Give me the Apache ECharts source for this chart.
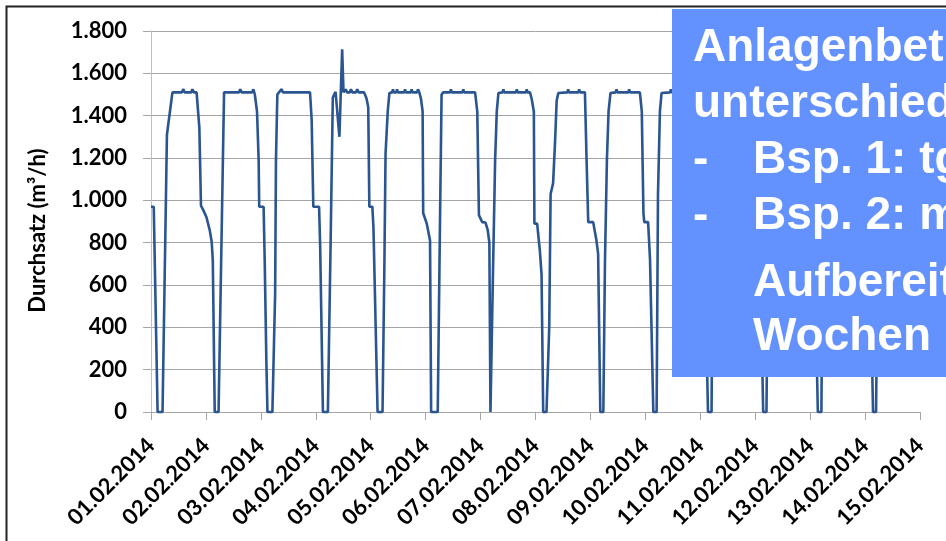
<!DOCTYPE html>
<html>
<head>
<meta charset="utf-8">
<script src="https://cdn.jsdelivr.net/npm/echarts@6/dist/echarts.min.js"></script>
<style>
html,body{margin:0;padding:0;background:#fff;}
#chart{width:946px;height:541px;}
</style>
</head>
<body>
<div id="chart"></div>
<script>
// Tick labels of the date axis (one per day, 01.02.2014 ... 15.02.2014)
const tickLabels = ['01.02.2014','02.02.2014','03.02.2014','04.02.2014','05.02.2014','06.02.2014','07.02.2014','08.02.2014','09.02.2014','10.02.2014','11.02.2014','12.02.2014','13.02.2014','14.02.2014','15.02.2014'];

// Time in days since 01.02.2014 00:00
const timeDays = [
  0.00,0.05,0.12,0.21,0.29,0.39,0.56,0.59,0.61,0.73,0.755,0.78,0.83,0.88,0.91,0.95,1.01,1.07,1.105,1.125,1.16,1.23,1.33,
  1.60,1.625,1.65,1.84,1.865,1.89,1.93,1.96,1.97,2.05,2.07,2.10,2.12,2.21,2.26,2.275,2.30,2.33,2.38,2.40,2.895,2.925,2.955,3.06,3.08,3.13,3.22,
  3.27,3.31,3.36,3.43,3.48,3.505,3.52,3.545,3.57,3.62,3.64,3.665,3.73,3.755,3.78,3.88,3.925,3.955,3.975,4.03,4.05,4.125,4.215,4.25,4.27,4.31,4.34,
  4.39,4.405,4.42,4.465,4.48,4.495,4.61,4.625,4.64,4.73,4.745,4.76,4.845,4.86,4.885,4.915,4.945,4.955,5.02,5.08,5.10,5.22,5.26,5.29,5.32,
  5.445,5.46,5.475,5.67,5.685,5.70,5.90,5.94,5.97,6.03,6.09,6.13,6.16,6.18,6.20,6.23,6.265,6.295,6.325,
  6.40,6.415,6.43,6.645,6.66,6.675,6.825,6.84,6.855,6.90,6.93,6.97,6.98,7.03,7.08,7.11,7.14,7.20,7.25,7.275,7.32,7.355,7.385,7.415,
  7.58,7.595,7.61,7.78,7.795,7.81,7.90,7.93,7.96,8.05,8.11,8.14,8.18,8.235,8.265,8.30,8.33,8.365,
  8.46,8.475,8.49,8.69,8.705,8.72,8.90,8.935,8.965,8.98,9.05,9.085,9.145,9.205,9.23,9.265,9.295,
  9.45,9.465,9.48,9.70,9.715,9.73,9.90,9.93,9.96,10.03,10.08,10.14,10.205,10.23,10.27,10.30,
  10.50,10.515,10.53,10.75,10.765,10.78,10.90,10.93,10.96,11.05,11.09,11.145,11.205,11.235,11.27,11.31,
  11.50,11.515,11.53,11.75,11.765,11.78,11.90,11.93,11.96,12.04,12.08,12.14,12.205,12.225,12.26,12.30,12.33,
  12.50,12.515,12.53,12.75,12.765,12.78,12.90,12.93,12.96,13.04,13.09,13.145,13.20,13.225,13.26,13.30,13.33,
  13.50,13.515,13.53,13.75,13.765,13.78,14.00
];

// Durchsatz in m³/h
const durchsatz = [
  970,970,0,0,1310,1510,1510,1525,1510,1510,1525,1510,1510,1345,975,955,920,858,803,716,0,0,1510,
  1510,1525,1510,1510,1525,1500,1420,1190,970,970,716,245,0,0,560,1190,1500,1510,1525,1510,1510,1380,970,970,780,0,0,
  800,1486,1513,1300,1714,1510,1510,1525,1510,1510,1525,1510,1510,1525,1510,1510,1480,1440,970,970,870,0,0,716,1220,1420,1507,
  1510,1525,1510,1510,1525,1510,1510,1525,1510,1510,1525,1510,1510,1525,1510,1480,1420,940,890,810,0,0,870,1500,1510,
  1510,1525,1510,1510,1525,1510,1510,1420,930,897,895,860,800,0,0,716,1190,1420,1507,
  1510,1525,1510,1510,1525,1510,1510,1525,1510,1510,1480,1420,890,890,760,650,0,0,400,1030,1080,1270,1470,1507,
  1510,1525,1510,1510,1525,1510,1510,1190,897,897,810,748,0,0,716,1190,1420,1507,
  1510,1525,1510,1510,1525,1510,1510,1420,940,897,897,720,0,0,1030,1420,1507,
  1510,1525,1510,1510,1525,1510,1510,1420,900,900,760,0,0,1000,1420,1510,
  1510,1525,1510,1510,1525,1510,1510,1420,900,890,750,0,0,900,1400,1510,
  1510,1525,1510,1510,1525,1510,1510,1420,900,890,760,0,0,700,1200,1450,1510,
  1510,1525,1510,1510,1525,1510,1510,1420,900,890,750,0,0,700,1200,1450,1510,
  1510,1525,1510,1510,1525,1510,1510
];

// Y-axis ticks
const yMin = 0, yMax = 1800, yStep = 200;

// Text of the overlaid callout box (partly cut off at the right edge)
const calloutLines = [
  {text: 'Anlagenbetrieb', indent: false},
  {text: 'unterschiedlich', indent: false},
  {text: 'Bsp. 1: tgl.', indent: true, dash: true},
  {text: 'Bsp. 2: mehrere', indent: true, dash: true},
  {text: 'Aufbereitung', indent: true},
  {text: 'Wochen', indent: true}
];

const seriesData = timeDays.map((t, i) => [t, durchsatz[i]]);

const chart = echarts.init(document.getElementById('chart'), null, {renderer: 'canvas'});

const boxFont = 'bold 46px "Liberation Sans", Arial, sans-serif';
const lineCenters = [48, 104, 160, 216, 283, 337];
const graphicEls = [
  {type: 'rect', z: 100, shape: {x: 6.5, y: 6.5, width: 1000, height: 1000},
   style: {fill: 'none', stroke: '#222', lineWidth: 2}},
  {type: 'rect', z: 101, shape: {x: 672, y: 9, width: 290, height: 368},
   style: {fill: '#6391fe'}}
];
calloutLines.forEach((ln, i) => {
  graphicEls.push({type: 'text', z: 102, x: ln.indent ? 753 : 693, y: lineCenters[i],
    style: {text: ln.text, font: boxFont, fill: '#fff', textVerticalAlign: 'middle', textAlign: 'left'}});
  if (ln.dash) {
    graphicEls.push({type: 'text', z: 102, x: 693, y: lineCenters[i],
      style: {text: '-', font: boxFont, fill: '#fff', textVerticalAlign: 'middle', textAlign: 'left'}});
  }
});

const labelFont = {fontFamily: 'Lato', fontWeight: 'bold', fontSize: 22, color: '#000'};

chart.setOption({
  backgroundColor: '#fff',
  animation: false,
  grid: {left: 151, right: 26, top: 31, bottom: 129, containLabel: false},
  xAxis: {
    type: 'value', min: 0, max: 14, interval: 1,
    axisLine: {show: true, lineStyle: {color: '#a6a6a6', width: 1}},
    axisTick: {show: true, length: 8, lineStyle: {color: '#a6a6a6'}},
    splitLine: {show: false},
    axisLabel: Object.assign({rotate: 45, margin: 30, formatter: v => tickLabels[Math.round(v)] || ''}, labelFont)
  },
  yAxis: {
    type: 'value', min: yMin, max: yMax, interval: yStep,
    name: 'Durchsatz (m³/h)', nameLocation: 'middle', nameGap: 102,
    nameTextStyle: {fontFamily: 'Lato', fontWeight: 'bold', fontSize: 22, color: '#000', padding: [0, 18, 0, 0]},
    axisLine: {show: true, lineStyle: {color: '#bfbfbf', width: 1}},
    axisTick: {show: true, length: 8, lineStyle: {color: '#a6a6a6'}},
    splitLine: {show: true, lineStyle: {color: '#a6a6a6', width: 1}},
    axisLabel: Object.assign({margin: 24, formatter: v => String(v).replace(/\B(?=(\d{3})+(?!\d))/g, '.')}, labelFont)
  },
  series: [{
    type: 'line', data: seriesData, showSymbol: false, clip: false,
    lineStyle: {color: '#2a5591', width: 2.6}, smooth: false
  }],
  graphic: {elements: graphicEls}
});
</script>
</body>
</html>
